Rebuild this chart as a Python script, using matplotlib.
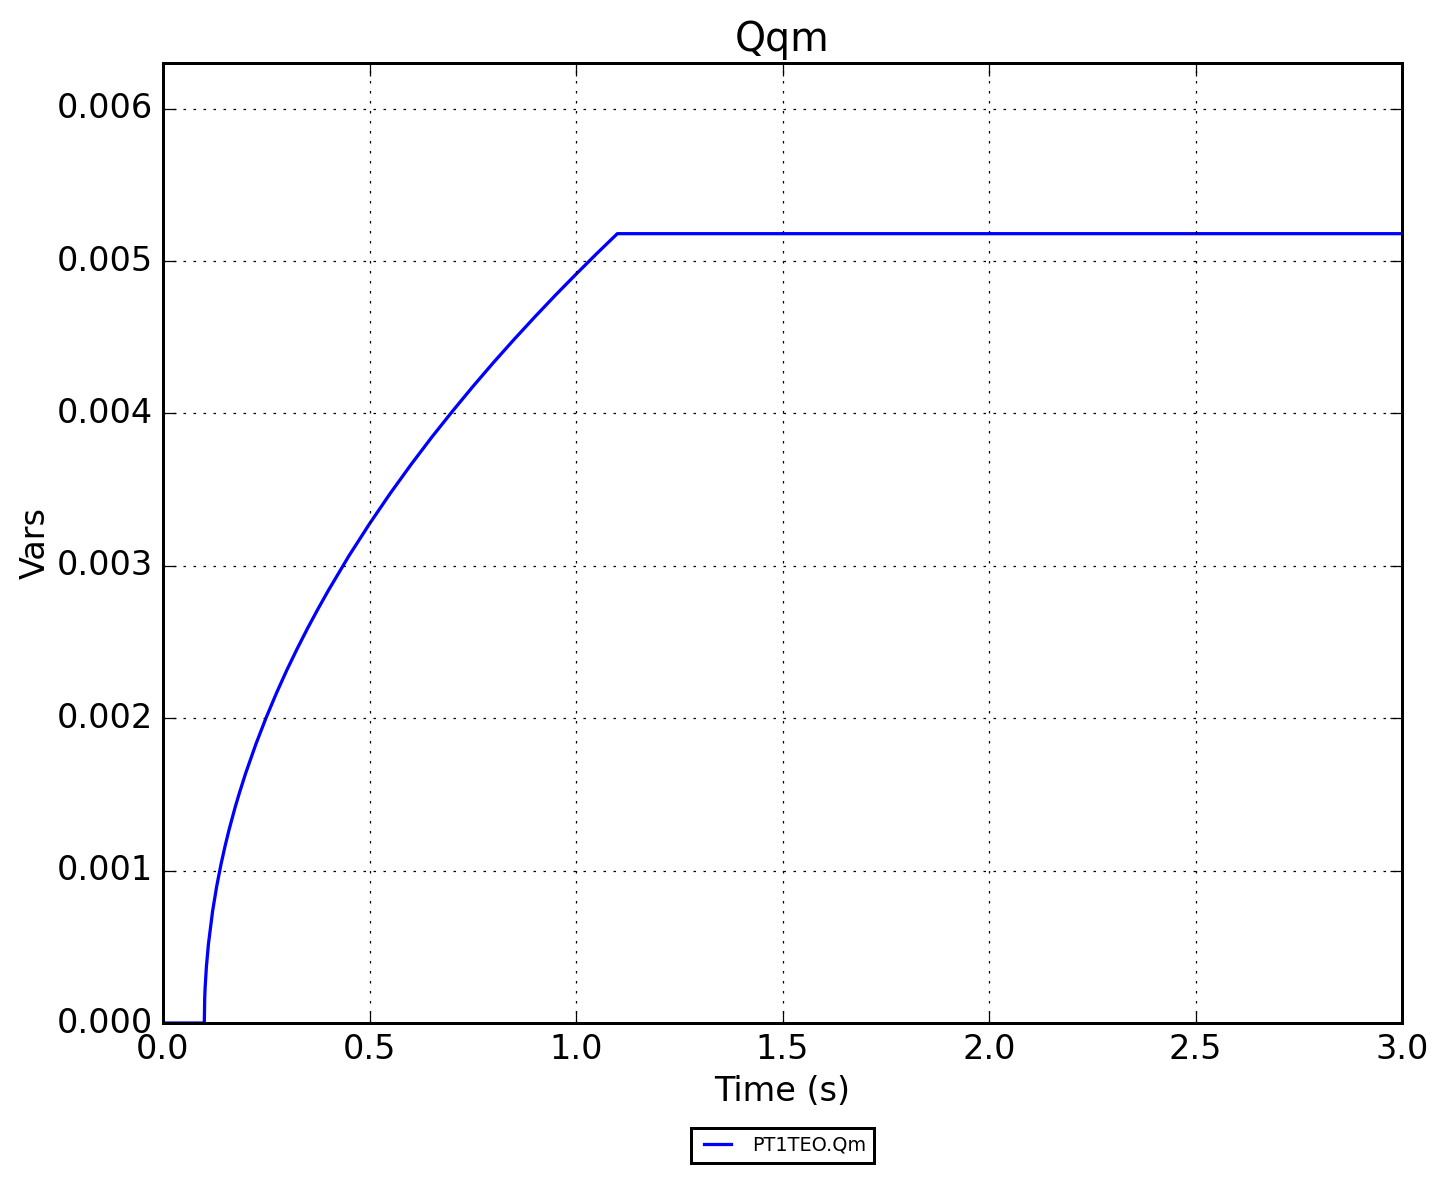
import matplotlib
matplotlib.use("Agg")
import matplotlib.pyplot as plt
from matplotlib.ticker import FormatStrFormatter, MultipleLocator

# values
time_s = [0.0, 0.1, 0.101, 0.102, 0.105, 0.11, 0.12, 0.13, 0.14, 0.15, 0.16,
          0.175, 0.185, 0.2, 0.225, 0.25, 0.275, 0.3, 0.325, 0.35, 0.375,
          0.4, 0.45, 0.5, 0.55, 0.6, 0.65, 0.7, 0.75, 0.8, 0.85, 0.9, 0.95,
          1.0, 1.05, 1.1, 3.0]
qm = [0.0, 0.0, 0.000164, 0.000232, 0.000366, 0.000518, 0.000733, 0.000897,
      0.001036, 0.001158, 0.001269, 0.001419, 0.001510, 0.001638, 0.001831,
      0.002006, 0.002167, 0.002317, 0.002457, 0.002590, 0.002716, 0.002837,
      0.003065, 0.003276, 0.003475, 0.003663, 0.003842, 0.004012, 0.004176,
      0.004334, 0.004486, 0.004633, 0.004776, 0.004914, 0.005049, 0.005180,
      0.005180]

series_label = "PT1TEO.Qm"

plt.style.use("classic")
plt.rcParams.update({
    "xtick.labelsize": 13.4,
    "ytick.labelsize": 13.4,
    "axes.labelsize": 13.4,
    "axes.titlesize": 15.8,
    "axes.linewidth": 1.2,
    "xtick.major.size": 5,
    "ytick.major.size": 5,
})

fig = plt.figure(figsize=(1445 / 180, 1182 / 180), dpi=180, facecolor="white")
ax = fig.add_axes([0.1128, 0.1345, 0.8575, 0.8122])

ax.plot(time_s, qm, color="b", lw=1.3, label=series_label)

ax.set_xlim(0.0, 3.0)
ax.set_ylim(0.0, 0.0063)
ax.xaxis.set_major_locator(MultipleLocator(0.5))
ax.yaxis.set_major_locator(MultipleLocator(0.001))
ax.yaxis.set_major_formatter(FormatStrFormatter("%.3f"))
ax.xaxis.set_major_formatter(FormatStrFormatter("%.1f"))
ax.grid(True, color="black", linestyle=":")

ax.set_title("Qqm")
ax.set_xlabel("Time (s)", labelpad=3.5)
ax.set_ylabel("Vars", labelpad=2)

leg = ax.legend(loc="upper center", bbox_to_anchor=(0.5, -0.0995), ncol=1,
                fontsize=7.7, frameon=True)
leg.get_frame().set_linewidth(1.2)

fig.savefig("out.png", dpi=180, facecolor="white")
